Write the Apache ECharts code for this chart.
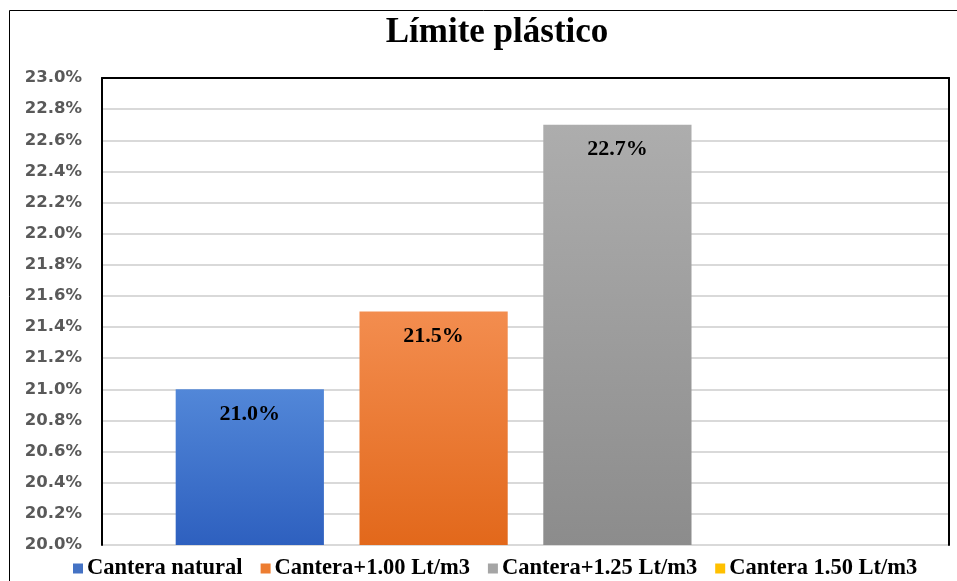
<!DOCTYPE html>
<html>
<head>
<meta charset="utf-8">
<script src="https://cdn.jsdelivr.net/npm/echarts@6/dist/echarts.min.js"></script>
<style>
html,body{margin:0;padding:0;background:#fff;}
#chart{width:957px;height:581px;}
</style>
</head>
<body>
<div id="chart"></div>
<script>
const seriesNames = ['Cantera natural', 'Cantera+1.00 Lt/m3', 'Cantera+1.25 Lt/m3', 'Cantera 1.50 Lt/m3'];
const seriesValues = [21.0, 21.5, 22.7, null];
const colorsTop = ['#5287d8', '#f38d4f', '#adadad', '#ffc000'];
const colorsBottom = ['#2e60bf', '#e2681b', '#8c8c8c', '#ffc000'];
const legendColors = ['#4472c4', '#ed7d31', '#a5a5a5', '#ffc000'];
const yMin = 20.0, yMax = 23.0, yStep = 0.2;

const chart = echarts.init(document.getElementById('chart'));

const series = seriesNames.map((name, i) => ({
  name: name,
  type: 'bar',
  data: [seriesValues[i]],
  barGap: '24%',
  barCategoryGap: '17.4%',
  itemStyle: {
    color: new echarts.graphic.LinearGradient(0, 0, 0, 1, [
      { offset: 0, color: colorsTop[i] },
      { offset: 1, color: colorsBottom[i] }
    ])
  },
  label: {
    show: seriesValues[i] !== null,
    position: 'insideTop',
    distance: 14,
    formatter: p => p.value.toFixed(1) + '%',
    fontFamily: 'Liberation Serif',
    fontWeight: 'bold',
    fontSize: 22,
    color: '#000'
  }
}));

chart.setOption({
  animation: false,
  title: {
    text: 'Límite plástico',
    left: 492,
    textAlign: 'center',
    top: 10,
    textStyle: { fontFamily: 'Liberation Serif', fontWeight: 'bold', fontSize: 35, color: '#000' }
  },
  graphic: [{
    type: 'rect',
    shape: { x: 9.5, y: 10.5, width: 960, height: 600 },
    style: { fill: 'none', stroke: '#000', lineWidth: 1 },
    silent: true
  }],
  grid: {
    left: 102, right: 8, top: 78, bottom: 36
  },
  legend: {
    data: seriesNames.map((n, i) => ({ name: n, itemStyle: { color: legendColors[i] } })),
    bottom: -4,
    left: 68,
    itemWidth: 10,
    itemHeight: 10,
    itemGap: 18,
    icon: 'rect',
    textStyle: { fontFamily: 'Liberation Serif', fontWeight: 'bold', fontSize: 22.5, color: '#000', padding: [0, 0, 0, -1] }
  },
  xAxis: [{
    type: 'category',
    data: [''],
    axisLine: { show: false },
    axisTick: { show: false },
    axisLabel: { show: false }
  }, {
    // top frame of the plot area
    type: 'category',
    position: 'top',
    data: [''],
    axisLine: { show: true, lineStyle: { color: '#000', width: 2 } },
    axisTick: { show: false },
    axisLabel: { show: false }
  }],
  yAxis: [{
    type: 'value',
    min: yMin,
    max: yMax,
    interval: yStep,
    axisLine: { show: true, lineStyle: { color: '#000', width: 2 } },
    axisTick: { show: false },
    axisLabel: {
      formatter: v => v.toFixed(1) + '%',
      fontFamily: 'DejaVu Sans',
      fontWeight: 'bold',
      fontSize: 16.5,
      color: '#595959',
      margin: 20
    },
    splitLine: { lineStyle: { color: '#d9d9d9', width: 2 } }
  }, {
    // right frame of the plot area
    type: 'value',
    position: 'right',
    min: yMin,
    max: yMax,
    interval: yStep,
    axisLine: { show: true, lineStyle: { color: '#000', width: 2 } },
    axisTick: { show: false },
    axisLabel: { show: false },
    splitLine: { show: false }
  }],
  series: series
});
</script>
</body>
</html>
